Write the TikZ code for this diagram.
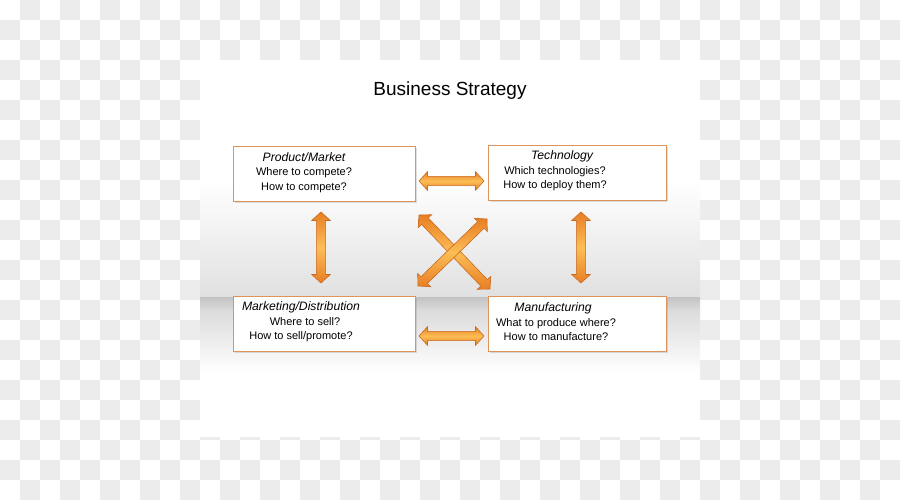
\documentclass[tikz,border=0pt]{standalone}
\usepackage{fontspec}
\setmainfont{Liberation Sans}
\usetikzlibrary{shapes.arrows,shadows,calc}
\definecolor{boxline}{RGB}{222,146,92}
\definecolor{arrline}{RGB}{200,105,32}
\definecolor{arredge}{RGB}{232,126,36}
\definecolor{arrmid}{RGB}{252,190,86}
\definecolor{checker}{RGB}{236,236,236}
\newcommand\boxtitle[1]{{\fontsize{12.2}{14.5}\selectfont\itshape #1}}
\tikzset{
  box/.style={draw=boxline, line width=0.8pt, fill=white,
    drop shadow={shadow xshift=2pt, shadow yshift=-2pt, opacity=0.25},
    minimum height=55pt, inner sep=0pt},
  boxtext/.style={align=center, font=\fontsize{11}{14.5}\selectfont, inner sep=0pt},
  darrow/.style={double arrow, draw=arrline, line width=0.6pt,
    top color=arredge, bottom color=arredge, middle color=arrmid,
    inner xsep=0pt, inner ysep=4.3pt, minimum width=18pt, double arrow head extend=4.7pt,
    double arrow tip angle=95},
}
\newcommand\dbl[3]{\path let \p1=(#1), \p2=(#2),
  \n1={atan2(\y2-\y1,\x2-\x1)}, \n2={veclen(\x2-\x1,\y2-\y1)} in
  node[darrow, rotate=\n1, minimum height=\n2] (#3) at ($(\p1)!0.5!(\p2)$) {};}
\begin{document}
\begin{tikzpicture}[x=1pt,y=-1pt]
\useasboundingbox (0,0) rectangle (900,500);
\fill[white] (0,0) rectangle (900,500);
\foreach \i in {0,...,44}{\foreach \j in {0,...,24}{
  \pgfmathtruncatemacro\k{mod(\i+\j,2)}
  \ifnum\k=1 \fill[checker] (\i*20,\j*20) rectangle ++(20,20);\fi}}
% slide
\fill[white] (200,60) rectangle (700,437);
\shade[top color=white, bottom color=black!12] (200,180) rectangle (700,297);
\shade[top color=black!24, bottom color=black!14] (200,297) rectangle (700,310);
\shade[top color=black!14, bottom color=white] (200,310) rectangle (700,372);
% title
\node[font=\fontsize{19}{22}\selectfont] (title) at (450,91) {Business Strategy};
% boxes
\node[box, minimum width=182pt] (pm) at (324,173.5) {};
\node[box, minimum width=178pt] (tech) at (577,172.5) {};
\node[box, minimum width=182pt] (mark) at (324,323.5) {};
\node[box, minimum width=178pt] (manu) at (577,323.5) {};
% texts
\node[boxtext] (pmt) at (304,172.5) {\boxtitle{Product/Market}\\Where to compete?\\How to compete?};
\node[boxtext] (techt) at (555,171) {\hspace*{14pt}\boxtitle{Technology}\\Which technologies?\\How to deploy them?};
\node[boxtext] (markt) at (301,322) {\boxtitle{Marketing/Distribution}\\\hspace*{8pt}Where to sell?\\How to sell/promote?};
\node[boxtext] (manut) at (556,322) {\boxtitle{Manufacturing}\hspace*{6pt}\\What to produce where?\\How to manufacture?};
% arrow end points
\coordinate (t1) at (419,181); \coordinate (t2) at (484,181);
\coordinate (b1) at (419,336); \coordinate (b2) at (484,336);
\coordinate (l1) at (321,212); \coordinate (l2) at (321,283);
\coordinate (r1) at (581,212); \coordinate (r2) at (581,283);
\coordinate (x1) at (419,215); \coordinate (x2) at (490,289);
\coordinate (y1) at (487,219); \coordinate (y2) at (418,286);
\dbl{t1}{t2}{atop}
\dbl{b1}{b2}{abot}
\dbl{l1}{l2}{aleft}
\dbl{r1}{r2}{aright}
\dbl{x1}{x2}{ax}
\dbl{y1}{y2}{ay}
\end{tikzpicture}
\end{document}
